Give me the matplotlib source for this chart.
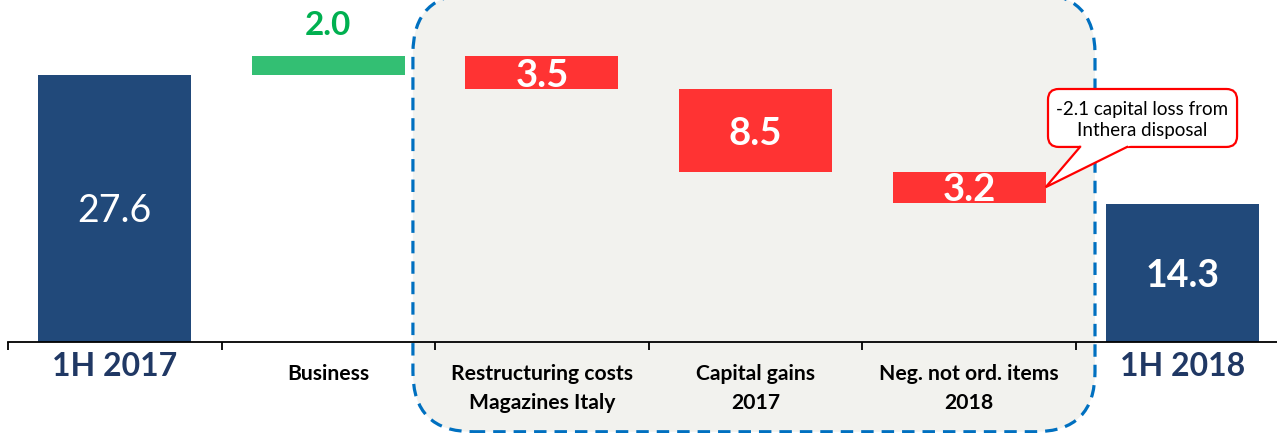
import numpy as np
import matplotlib.pyplot as plt
from matplotlib.patches import FancyBboxPatch, Polygon

# waterfall data (EUR m)
categories = ['1H 2017', 'Business', 'Restructuring costs\nMagazines Italy',
              'Capital gains\n2017', 'Neg. not ord. items\n2018', '1H 2018']
start_value = 27.6
changes = [2.0, -3.5, -8.5, -3.2]
end_value = 14.3
callout_text = '-2.1 capital loss from\nInthera disposal'

NAVY = '#21497A'
LABEL_NAVY = '#203864'
GREEN_BAR = '#33BF73'
GREEN_TXT = '#00B050'
RED = '#FF3333'
FONT = 'Lato'


def main():
    plt.rcParams['font.family'] = [FONT, 'DejaVu Sans']

    fig = plt.figure(figsize=(12.77, 4.33), dpi=100)
    ax = fig.add_axes([0, 0, 1, 1])
    xmin, xmax = -0.537, 5.441
    ymin, ymax = -9.41, 35.35
    ax.set_xlim(xmin, xmax)
    ax.set_ylim(ymin, ymax)
    aspect = (fig.bbox.width / (xmax - xmin)) / (fig.bbox.height / (ymax - ymin))

    width = 0.716

    # grey rounded panel around the non-ordinary items
    panel = FancyBboxPatch((1.396, -9.28), 4.589 - 1.396, 36.0 + 9.28,
                           boxstyle='round,pad=0,rounding_size=0.28',
                           mutation_aspect=aspect, fc='#F2F2EE', ec='#0070C0',
                           lw=2.3, linestyle=(0, (3.9, 2.5)), zorder=0.5)
    ax.add_patch(panel)

    # start bar
    ax.bar(0, start_value, width=width, color=NAVY, zorder=2)
    ax.annotate(f'{start_value:.1f}', (0, start_value / 2), xytext=(0, -3),
                textcoords='offset pixels', color='white', fontsize=27,
                ha='center', va='center', zorder=4)

    # floating bars for the changes
    running = start_value
    for i, d in enumerate(changes, start=1):
        bottom = running if d > 0 else running + d
        color = GREEN_BAR if d > 0 else RED
        ax.bar(i, abs(d), bottom=bottom, width=width, color=color, zorder=2)
        if d > 0:
            ax.annotate(f'{abs(d):.1f}', (i, bottom + abs(d)), xytext=(0, 30),
                        textcoords='offset pixels', color=GREEN_TXT,
                        fontsize=24, fontweight='bold', ha='center', va='center')
        else:
            ax.annotate(f'{abs(d):.1f}', (i, bottom + abs(d) / 2), xytext=(0, -3),
                        textcoords='offset pixels', color='white', fontsize=27.5,
                        fontweight='bold', ha='center', va='center', zorder=4)
        running += d
    last_bottom = running
    last_top = running - changes[-1]

    # end bar
    n = len(categories) - 1
    ax.bar(n, end_value, width=width, color=NAVY, zorder=2)
    ax.annotate(f'{end_value:.1f}', (n, end_value / 2), xytext=(0, -3),
                textcoords='offset pixels', color='white', fontsize=27,
                fontweight='bold', ha='center', va='center', zorder=4)

    # axis line with ticks between categories
    for s in ['left', 'right', 'top']:
        ax.spines[s].set_visible(False)
    ax.spines['bottom'].set_position(('data', 0))
    ax.spines['bottom'].set_bounds(-0.5, xmax)
    ax.spines['bottom'].set_linewidth(1.3)
    ax.spines['bottom'].set_zorder(3)
    ax.set_xticks(np.arange(-0.5, n, 1))
    ax.tick_params(axis='x', direction='out', length=5.5, width=1.3,
                   labelbottom=False)
    ax.set_yticks([])

    # category labels
    for i, lab in enumerate(categories):
        if i in (0, n):
            ax.annotate(lab, (i, 0), xytext=(0, -25), textcoords='offset pixels',
                        color=LABEL_NAVY, fontsize=23, fontweight='bold',
                        ha='center', va='center')
        else:
            for k, line in enumerate(lab.split('\n')):
                ax.annotate(line, (i, 0), xytext=(0, -32 - 29 * k),
                            textcoords='offset pixels', color='black',
                            fontsize=15.2, fontweight='bold',
                            ha='center', va='center')

    # callout pointing at the last negative item
    bx0, bx1, by0, by1 = 4.369, 5.254, 20.16, 26.15
    box = FancyBboxPatch((bx0, by0), bx1 - bx0, by1 - by0,
                         boxstyle='round,pad=0,rounding_size=0.05',
                         mutation_aspect=aspect, fc='white', ec='red',
                         lw=1.6, zorder=5)
    ax.add_patch(box)
    tip = (4 + width / 2, (last_bottom + last_top) / 2)
    base = [4.519, 4.739]
    ext = 0.5
    pts = []
    for bx in base:
        t = (by0 + ext - tip[1]) / (by0 - tip[1])
        pts.append((tip[0] + (bx - tip[0]) * t, by0 + ext))
    ax.add_patch(Polygon([pts[0], pts[1], tip], closed=True, fc='white',
                         ec='none', zorder=6))
    ax.plot([base[0], tip[0], base[1]], [by0, tip[1], by0], color='red',
            lw=1.6, zorder=7, solid_joinstyle='miter')
    ax.annotate(callout_text, ((bx0 + bx1) / 2, (by0 + by1) / 2), xytext=(0, -2),
                textcoords='offset pixels', fontsize=13.5, ha='center',
                va='center', linespacing=1.25, zorder=8)

    fig.savefig('out.png', dpi=100)


if __name__ == '__main__':
    main()
